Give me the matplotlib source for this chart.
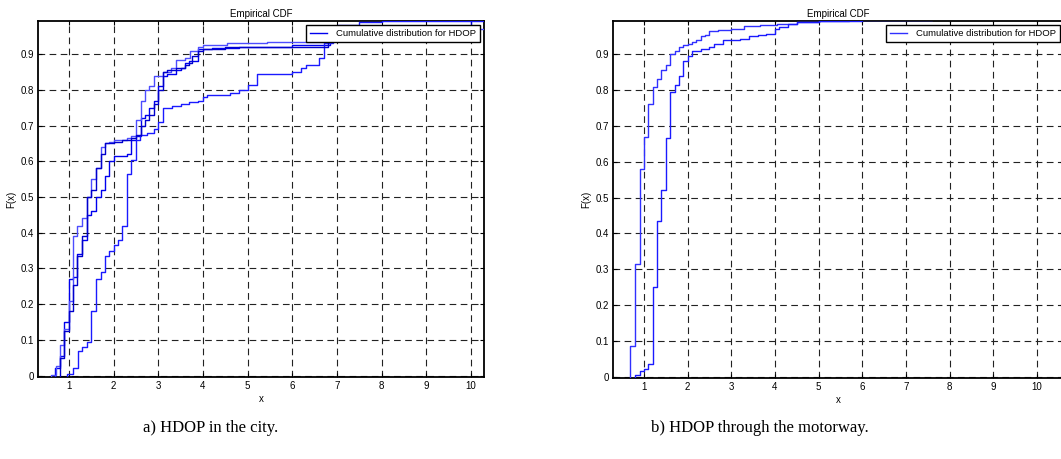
import matplotlib
matplotlib.use("Agg")
import matplotlib.pyplot as plt

# step positions (x) and cdf level after each step (F)
city_a_x = [0.97, 1.10, 1.20, 1.30, 1.40, 1.50, 1.60, 1.71, 1.81, 1.90, 2.01, 2.10, 2.20, 2.30,
            2.40, 2.50, 2.60, 2.75, 2.90, 3.00, 3.10, 3.30, 3.50, 3.70, 3.90, 4.00, 4.10, 4.60,
            4.80, 5.00, 5.20, 6.00, 6.20, 6.30, 6.60, 6.70, 6.90, 7.00, 7.50, 8.00, 10.40]
city_a_f = [0.005, 0.02, 0.07, 0.08, 0.095, 0.18, 0.27, 0.29, 0.335, 0.35, 0.365, 0.38, 0.42, 0.565,
            0.605, 0.66, 0.675, 0.68, 0.69, 0.71, 0.75, 0.755, 0.76, 0.765, 0.77, 0.78, 0.785, 0.79,
            0.80, 0.815, 0.845, 0.85, 0.86, 0.87, 0.89, 0.93, 0.96, 0.983, 0.989, 0.992, 1.0]

city_b_x = [0.61, 0.71, 0.80, 0.90, 1.00, 1.10, 1.19, 1.30, 1.40, 1.50, 1.60, 1.71, 1.81, 1.90,
            2.01, 2.31, 2.40, 2.51, 2.61, 2.71, 2.80, 2.90, 3.10, 3.29, 3.40, 3.60, 3.71, 3.90,
            4.00, 4.53, 5.43, 6.90, 8.50, 10.40]
city_b_f = [0.003, 0.027, 0.085, 0.13, 0.21, 0.39, 0.42, 0.44, 0.50, 0.55, 0.58, 0.64, 0.65, 0.655,
            0.66, 0.665, 0.67, 0.715, 0.77, 0.80, 0.81, 0.84, 0.85, 0.86, 0.885, 0.89, 0.91, 0.92,
            0.925, 0.93, 0.935, 0.96, 0.97, 1.0]

city_c_x = [0.70, 0.80, 0.90, 1.00, 1.10, 1.19, 1.30, 1.40, 1.50, 1.60, 1.71, 1.81, 1.90, 2.01,
            2.31, 2.40, 2.51, 2.61, 2.71, 2.80, 2.90, 3.00, 3.10, 3.20, 3.40, 3.50, 3.60, 3.70,
            3.90, 4.20, 4.80, 6.00, 6.85, 10.00]
city_c_f = [0.02, 0.055, 0.15, 0.27, 0.275, 0.34, 0.38, 0.45, 0.46, 0.50, 0.52, 0.56, 0.60, 0.615,
            0.62, 0.66, 0.67, 0.72, 0.73, 0.75, 0.77, 0.81, 0.84, 0.845, 0.855, 0.86, 0.875, 0.88,
            0.915, 0.918, 0.92, 0.925, 0.95, 0.975]

city_d_x = [0.80, 0.90, 1.00, 1.10, 1.19, 1.30, 1.40, 1.50, 1.60, 1.71, 1.81, 2.01, 2.20, 2.40,
            2.51, 2.61, 2.71, 2.80, 2.90, 3.00, 3.10, 3.20, 3.40, 3.60, 3.70, 3.75, 3.90, 4.00,
            4.50, 6.80, 10.00]
city_d_f = [0.05, 0.125, 0.18, 0.255, 0.335, 0.39, 0.50, 0.52, 0.58, 0.62, 0.65, 0.655, 0.66, 0.665,
            0.675, 0.70, 0.715, 0.73, 0.76, 0.80, 0.85, 0.855, 0.86, 0.87, 0.875, 0.895, 0.91, 0.915,
            0.92, 0.96, 0.99]

road_a_x = [0.69, 0.80, 0.90, 1.00, 1.10, 1.20, 1.30, 1.40, 1.50, 1.60, 1.70, 1.80, 1.90, 2.00,
            2.10, 2.20, 2.30, 2.40, 2.50, 2.70, 3.00, 3.30, 3.65, 4.05, 4.50, 5.00, 5.70, 7.60]
road_a_f = [0.085, 0.315, 0.58, 0.67, 0.76, 0.81, 0.83, 0.855, 0.87, 0.90, 0.91, 0.92, 0.925, 0.93,
            0.935, 0.94, 0.95, 0.955, 0.965, 0.968, 0.972, 0.978, 0.982, 0.985, 0.99, 0.992, 0.995, 1.0]

road_b_x = [0.80, 0.90, 1.00, 1.10, 1.20, 1.30, 1.40, 1.50, 1.60, 1.70, 1.80, 1.90, 2.00, 2.10,
            2.30, 2.50, 2.60, 2.80, 3.20, 3.40, 3.60, 3.80, 4.00, 4.10, 4.30, 4.50, 5.00, 6.00]
road_b_f = [0.003, 0.015, 0.02, 0.035, 0.25, 0.435, 0.52, 0.665, 0.795, 0.815, 0.84, 0.88, 0.895, 0.91,
            0.915, 0.92, 0.93, 0.94, 0.942, 0.95, 0.955, 0.958, 0.97, 0.975, 0.985, 0.99, 0.993, 0.995]

x_ticks = [1, 2, 3, 4, 5, 6, 7, 8, 9, 10]
y_ticks = [0, 0.1, 0.2, 0.3, 0.4, 0.5, 0.6, 0.7, 0.8, 0.9]
legend_text = "Cumulative distribution for HDOP"

plt.rcParams["font.family"] = ["Liberation Sans", "DejaVu Sans"]

W, H = 1061, 459
fig = plt.figure(figsize=(W / 100, H / 100), dpi=100)


def draw_cdf(ax, curves, xlim):
    first = True
    for xs, fs, col in curves:
        # ecdf starts at the smallest sample with F = 0
        px = [xs[0]] + xs
        pf = [0] + fs
        ax.step(px, pf, where="post", color=col, lw=1.0,
                label=legend_text if first else None, zorder=3)
        first = False
    ax.set_xlim(*xlim)
    ax.set_ylim(-0.004, 0.993)
    ax.set_xticks(x_ticks)
    ax.set_yticks(y_ticks)
    ax.set_yticklabels(["0"] + [f"{v:.1f}" for v in y_ticks[1:]])
    ax.tick_params(direction="in", length=3, labelsize=7, pad=3, width=0.8,
                   top=True, right=True)
    ax.grid(True, color="#222222", lw=0.8, linestyle=(0, (6, 4)))
    for s in ax.spines.values():
        s.set_linewidth(1.3)
    ax.set_title("Empirical CDF", fontsize=7, pad=3)
    ax.set_xlabel("x", fontsize=7, labelpad=2)
    ax.set_ylabel("F(x)", fontsize=7, labelpad=3)
    leg = ax.legend(loc="upper right", fontsize=6.8, fancybox=False, framealpha=1,
                    edgecolor="black", borderaxespad=0.4, handlelength=1.8,
                    borderpad=0.45, handletextpad=0.9)
    leg.get_frame().set_linewidth(1.0)
    leg.set_zorder(5)


ax1 = fig.add_axes([38 / W, (H - 377) / H, (484 - 38) / W, (377 - 21) / H])
draw_cdf(ax1, [(city_c_x, city_c_f, "#0000ee"),
               (city_a_x, city_a_f, "#1a1aff"),
               (city_b_x, city_b_f, "#4d4dff"),
               (city_d_x, city_d_f, "#0000cc")], (0.31, 10.29))

ax2 = fig.add_axes([613 / W, (H - 378) / H, (1064 - 613) / W, (378 - 21) / H])
draw_cdf(ax2, [(road_a_x, road_a_f, "#3030ff"),
               (road_b_x, road_b_f, "#1a1aff")], (0.29, 10.62))

fig.text(211 / W, 1 - 428 / H, "a) HDOP in the city.", ha="center", va="center",
         family=["Liberation Serif", "DejaVu Serif"], fontsize=12)
fig.text(760 / W, 1 - 428 / H, "b) HDOP through the motorway.", ha="center", va="center",
         family=["Liberation Serif", "DejaVu Serif"], fontsize=12)

fig.savefig("out.png", dpi=100)
